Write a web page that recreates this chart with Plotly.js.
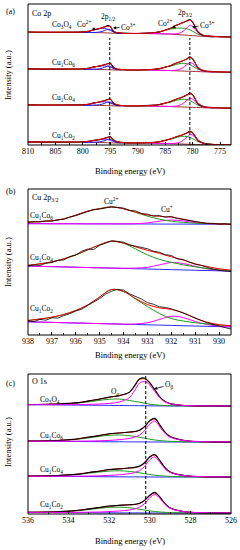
<!DOCTYPE html>
<html><head><meta charset="utf-8">
<script src="https://cdn.plot.ly/plotly-3.0.1.min.js"></script>
<style>html,body{margin:0;padding:0;background:#fff}#chart{width:240px;height:550px}</style>
</head><body><div id="chart"></div>
<script>
// ---------- Panel (a): Co 2p ----------
const energyA   = [810,805,800,799,798,797,796,795.5,795,794.5,794,793,790,787,786,785,784,783,782,781,780.5,780,779.5,779,778,777,775,773];
const energyA12 = [800,799,798,797,796,795.5,795,794.5,794,793];
const energyA32 = [788,787,786,785,784,783,782,781,780.5,780,779.5,779,778,777,776];
const ticksA = [810,805,800,795,790,785,780,775];

// Co3O4
const a1Bg  = [7.2,7.0,6.9,6.8,6.7,6.6,6.4,6.3,6.2,6.0,5.9,5.8,5.7,5.6,5.5,5.3,5.1,4.8,4.4,4.0,3.8,3.6,3.4,3.2,2.9,2.6,2.3,2.2];
const a1Fit = [7.2,7.1,7.3,8.0,9.4,10.8,12.2,13.0,12.6,9.0,7.0,6.1,5.9,6.6,7.5,9.0,11.2,13.8,16.0,18.2,19.2,17.5,12.5,7.5,4.0,3.2,2.5,2.3];
const a1Raw = [7.3,7.0,7.4,7.9,9.6,10.6,12.4,13.6,12.9,8.4,6.8,6.2,5.8,6.7,7.4,9.2,11.0,14.0,16.2,18.6,19.8,17.0,12.0,7.2,3.8,3.1,2.6,2.2];
const a1Co2p32 = [5.8,6.3,7.3,8.8,10.2,11.0,11.2,10.4,9.4,8.0,6.5,5.1,3.5,2.8,2.4];
const a1Co3p32 = [5.6,5.6,5.5,5.4,5.3,5.4,7.0,11.5,14.0,12.8,9.8,6.6,3.4,2.7,2.4];
const a1Co2p12 = [7.0,7.6,9.2,10.6,10.8,10.0,8.8,7.6,6.6,6.0];
const a1Co3p12 = [6.9,6.8,6.8,7.2,8.8,10.0,9.6,7.8,6.5,5.9];
// Cu1Co6
const a2Bg  = [5.5,5.4,5.3,5.2,5.1,5.0,4.9,4.8,4.7,4.6,4.5,4.5,4.4,4.3,4.2,4.1,3.9,3.7,3.5,3.3,3.2,3.1,3.0,2.9,2.7,2.6,2.5,2.4];
const a2Fit = [5.5,5.5,5.7,6.3,7.4,8.6,9.8,10.6,10.9,8.0,6.0,4.9,4.6,5.2,6.0,7.3,9.0,11.2,13.4,15.6,17.2,16.0,11.5,7.0,4.0,3.0,2.6,2.4];
const a2Raw = [5.6,5.4,5.8,6.2,7.6,8.4,10.0,10.8,11.4,7.6,5.8,5.0,4.5,5.3,5.9,7.5,8.8,11.4,13.2,15.9,17.8,15.6,11.0,6.6,3.8,3.1,2.5,2.3];
const a2Co2p32 = [4.5,5.0,5.8,7.0,8.5,10.0,11.2,10.8,9.8,8.3,6.6,5.1,3.5,2.8,2.6];
const a2Co3p32 = [4.3,4.3,4.2,4.1,4.0,4.3,6.0,10.0,11.8,11.0,8.6,5.8,3.3,2.7,2.6];
const a2Co2p12 = [5.5,6.0,7.2,8.3,8.6,8.2,7.4,6.3,5.3,4.7];
const a2Co3p12 = [5.3,5.2,5.3,5.7,7.2,8.4,8.2,6.6,5.2,4.6];
// Cu1Co4
const a3Bg  = [4.8,4.7,4.6,4.5,4.4,4.3,4.2,4.1,4.0,3.9,3.8,3.8,3.7,3.6,3.5,3.4,3.2,3.0,2.8,2.6,2.5,2.4,2.3,2.2,2.0,1.9,1.8,1.7];
const a3Fit = [4.8,4.8,5.0,5.6,6.7,7.9,9.1,9.9,10.3,7.5,5.4,4.2,3.9,4.5,5.3,6.6,8.3,10.4,12.5,14.6,16.2,15.2,10.8,6.4,3.3,2.3,1.9,1.7];
const a3Raw = [4.9,4.7,5.1,5.5,6.9,7.7,9.3,10.2,10.8,7.1,5.2,4.3,3.8,4.6,5.2,6.8,8.1,10.6,12.3,14.9,16.8,14.8,10.3,6.0,3.1,2.4,1.8,1.6];
const a3Co2p32 = [3.8,4.3,5.1,6.3,7.8,9.3,10.5,10.2,9.2,7.7,6.0,4.5,2.9,2.1,1.9];
const a3Co3p32 = [3.6,3.6,3.5,3.4,3.3,3.6,5.4,9.5,11.5,10.6,8.2,5.3,2.7,2.0,1.9];
const a3Co2p12 = [4.8,5.3,6.5,7.6,7.9,7.5,6.7,5.6,4.6,4.0];
const a3Co3p12 = [4.6,4.5,4.6,5.0,6.5,7.7,7.6,6.0,4.5,3.9];
// Cu1Co2
const a4Bg  = [3.0,2.9,2.8,2.7,2.6,2.5,2.4,2.3,2.2,2.1,2.0,2.0,1.9,1.8,1.7,1.6,1.4,1.2,1.0,0.8,0.7,0.6,0.5,0.4,0.3,0.2,0.1,0.0];
const a4Fit = [3.0,3.0,3.2,3.7,4.6,5.6,6.7,7.4,7.9,5.8,3.9,2.5,2.1,2.6,3.4,4.6,6.2,8.1,10.0,11.9,13.3,12.6,8.8,4.9,1.9,0.8,0.3,0.1];
const a4Raw = [3.1,2.9,3.3,3.6,4.8,5.4,6.9,7.7,8.3,5.4,3.7,2.6,2.0,2.7,3.3,4.8,6.0,8.3,9.8,12.2,13.9,12.2,8.3,4.5,1.7,0.9,0.2,0.0];
const a4Co2p32 = [2.0,2.5,3.2,4.4,5.9,7.4,8.6,8.5,7.7,6.4,4.9,3.4,1.8,0.9,0.6];
const a4Co3p32 = [1.8,1.8,1.7,1.6,1.5,1.8,3.6,8.0,10.4,9.8,7.3,4.3,1.6,0.6,0.4];
const a4Co2p12 = [3.0,3.4,4.4,5.4,5.8,5.5,4.8,3.8,2.8,2.2];
const a4Co3p12 = [2.8,2.7,2.8,3.1,4.4,5.5,5.6,4.3,2.9,2.1];

// ---------- Panel (b): Cu 2p3/2 ----------
const energyB = [938,937.5,937,936.5,936,935.5,935,934.5,934,933.5,933,932.5,932,931.5,931,930.5,930,929.5];
const energyBRaw = [938,937.75,937.5,937.25,937,936.75,936.5,936.25,936,935.75,935.5,935.25,935,934.75,934.5,934.25,934,933.75,933.5,933.25,933,932.75,932.5,932.25,932,931.75,931.5,931.25,931,930.75,930.5,930.25,930,929.75,929.5];
const ticksB = [938,937,936,935,934,933,932,931,930];
// Cu1Co6
const b1Bg  = [14.0,14.0,13.9,13.9,13.9,13.8,13.8,13.8,13.7,13.7,13.7,13.6,13.6,13.6,13.5,13.5,13.4,13.4];
const b1Cu2 = [15.6,16.2,17.0,18.8,22.5,26.5,29.0,30.7,28.8,25.3,21.5,18.5,16.5,15.3,14.5,14.0,13.7,13.5];
const b1Cu1 = [14.0,14.0,13.9,13.9,13.9,13.8,13.8,13.8,13.8,14.0,14.8,16.5,17.6,16.8,15.0,14.0,13.5,13.4];
const b1Fit = [15.6,16.2,17.0,18.8,22.5,26.5,29.0,30.7,28.9,25.6,22.6,21.4,20.5,18.5,16.0,14.5,13.8,13.5];
const b1Raw = [15.2,15.9,15.6,16.8,16.4,17.9,18.4,20.6,22.0,24.1,25.6,28.2,28.6,30.1,30.9,30.2,29.6,27.4,26.8,24.2,23.5,21.6,22.1,20.4,21.3,19.2,18.0,16.8,15.9,15.1,14.2,14.4,13.6,13.9,13.2];
// Cu1Co4
const b2Bg  = [20.3,20.0,19.7,19.4,19.1,18.8,18.5,18.2,17.9,17.6,17.3,17.0,16.7,16.4,16.1,15.8,15.5,15.3];
const b2Cu2 = [21.0,22.5,24.5,27.5,31.5,36.5,41.5,45.0,43.0,37.5,31.5,27.0,24.0,21.5,19.5,17.8,16.5,15.6];
const b2Cu1 = [20.3,20.0,19.7,19.4,19.1,18.8,18.5,18.3,18.1,18.2,19.0,21.5,23.8,22.8,20.0,17.5,15.9,15.3];
const b2Fit = [21.0,22.5,24.5,27.5,31.5,36.5,41.5,45.1,43.3,39.5,36.0,33.0,29.5,26.3,22.5,19.8,17.6,16.2];
const b2Raw = [20.6,21.3,21.0,23.1,23.8,25.9,26.4,29.8,31.2,35.1,37.3,36.8,41.0,43.6,45.6,45.0,44.1,41.5,40.2,38.4,37.6,35.2,34.1,31.6,30.9,27.5,26.8,24.2,22.1,20.9,18.7,17.2,16.0,15.6,14.8];
// Cu1Co2
const b3Bg  = [13.2,12.9,12.6,12.3,12.0,11.7,11.4,11.1,10.8,10.5,10.2,9.9,9.6,9.3,9.0,8.7,8.4,8.1];
const b3Cu2 = [14.5,16.0,17.8,20.5,24.5,30.0,38.0,45.5,43.5,36.0,28.5,21.5,16.5,14.0,12.3,11.0,10.0,9.2];
const b3Cu1 = [13.2,12.9,12.6,12.3,12.0,11.7,11.4,11.1,10.9,11.0,12.2,15.5,18.8,17.5,13.5,10.5,8.8,8.2];
const b3Fit = [14.5,16.0,17.8,20.5,24.5,30.0,38.0,45.5,43.6,36.5,30.5,27.1,25.7,22.2,16.8,12.8,10.4,9.3];
const b3Raw = [14.2,13.4,15.6,14.8,17.2,16.9,19.4,21.3,24.0,25.8,29.6,32.8,36.4,40.9,43.8,45.6,44.9,41.2,38.9,36.0,32.4,30.8,28.2,27.6,26.1,24.2,22.0,19.6,16.8,14.6,12.1,10.3,9.1,7.4,6.0];

// ---------- Panel (c): O 1s ----------
const energyC = [536,535,534,533.5,533,532.5,532,531.5,531,530.75,530.5,530.25,530,529.75,529.5,529.25,529,528.5,528,527,526];
const ticksC = [536,534,532,530,528,526];
// Co3O4
const c1Bg  = [4.3,4.2,4.0,3.9,3.8,3.7,3.6,3.5,3.4,3.35,3.3,3.25,3.2,3.15,3.1,3.05,3.0,3.0,3.0,3.0,3.0];
const c1Oa  = [4.4,4.6,5.2,6.0,7.2,8.6,9.7,10.0,8.5,7.6,6.8,5.8,4.8,4.2,3.8,3.5,3.3,3.1,3.0,3.0,3.0];
const c1Ob  = [4.3,4.3,4.3,4.4,4.6,5.0,5.6,7.0,11.5,18.5,26.0,27.5,24.0,17.5,11.0,7.0,5.2,3.8,3.3,3.1,3.0];
const c1Fit = [4.4,4.7,5.5,6.5,8.0,9.9,11.7,13.5,16.6,22.8,29.5,30.1,25.6,18.6,11.7,7.5,5.5,3.9,3.3,3.1,3.0];
const c1Raw = [4.5,4.6,5.6,6.4,8.1,9.8,11.9,13.4,16.9,23.4,30.2,30.8,26.3,19.2,12.0,7.6,5.4,3.8,3.2,3.1,2.9];
// Cu1Co6
const c2Bg  = [2.8,2.7,2.6,2.5,2.4,2.3,2.2,2.2,2.1,2.1,2.1,2.1,2.0,2.0,2.0,2.0,2.0,2.0,2.0,2.0,2.0];
const c2Oa  = [2.9,3.2,4.0,4.9,6.2,7.6,8.7,9.0,8.3,7.6,6.7,5.7,4.8,4.0,3.4,3.0,2.7,2.3,2.1,2.0,2.0];
const c2Ob  = [2.8,2.8,2.8,2.9,3.0,3.2,3.6,4.3,5.6,6.8,9.0,13.5,20.0,23.0,17.0,10.5,6.8,4.0,2.8,2.2,2.0];
const c2Fit = [2.9,3.3,4.2,5.3,6.8,8.5,10.1,11.1,11.8,12.3,13.6,17.1,22.8,25.0,18.4,11.5,7.5,4.3,2.9,2.2,2.0];
const c2Raw = [3.0,3.2,4.3,5.2,6.9,8.4,10.3,11.0,12.0,12.5,13.9,17.6,23.4,25.6,18.9,11.8,7.4,4.2,2.8,2.1,1.9];
// Cu1Co4
const c3Bg  = [2.8,2.7,2.6,2.5,2.4,2.3,2.2,2.2,2.1,2.1,2.1,2.1,2.0,2.0,2.0,2.0,2.0,2.0,2.0,2.0,2.0];
const c3Oa  = [2.9,3.1,3.8,4.6,5.8,7.0,7.9,8.2,7.6,7.0,6.2,5.3,4.5,3.8,3.3,2.9,2.6,2.3,2.1,2.0,2.0];
const c3Ob  = [2.8,2.8,2.8,2.9,3.0,3.2,3.6,4.2,5.4,6.5,8.5,12.8,19.2,22.0,16.5,10.2,6.6,3.9,2.8,2.2,2.0];
const c3Fit = [2.9,3.2,4.0,5.0,6.4,7.9,9.3,10.2,10.9,11.4,12.6,16.0,21.7,23.8,17.8,11.1,7.2,4.2,2.9,2.2,2.0];
const c3Raw = [3.0,3.1,4.1,4.9,6.5,7.8,9.5,10.1,11.1,11.6,12.9,16.5,22.3,24.4,18.3,11.4,7.1,4.1,2.8,2.1,1.9];
// Cu1Co2
const c4Bg  = [1.6,1.5,1.4,1.3,1.3,1.2,1.2,1.1,1.1,1.1,1.1,1.0,1.0,1.0,1.0,1.0,1.0,1.0,1.0,1.0,1.0];
const c4Oa  = [1.7,1.9,2.6,3.4,4.5,5.7,6.6,6.8,6.2,5.6,4.8,3.9,3.1,2.5,2.0,1.7,1.4,1.2,1.1,1.0,1.0];
const c4Ob  = [1.6,1.6,1.6,1.7,1.8,2.0,2.4,3.0,4.0,5.0,6.8,10.5,16.2,19.5,15.5,9.5,5.8,2.9,1.7,1.2,1.0];
const c4Fit = [1.7,2.0,2.8,3.8,5.0,6.5,7.8,8.7,9.1,9.5,10.5,13.4,18.3,21.0,16.5,10.2,6.2,3.1,1.8,1.2,1.0];
const c4Raw = [1.8,1.9,2.9,3.7,5.1,6.4,8.0,8.6,9.3,9.7,10.8,13.9,18.9,21.6,16.9,10.3,6.1,3.0,1.7,1.1,0.9];

const dashA = [795.1, 780.5];
const dashC = [530.2];

// ---------- build ----------
const W = 240, H = 550;
const PX = x => x / W, PY = y => 1 - y / H;
const FONT = 'Liberation Serif';
const COL = {raw:'#000000', fit:'#ff0000', green:'#1f9a1f', mag:'#ff00ff', purple:'#7a1fe0', blue:'#2020ff', bgA:'#9b2a2a', bgB:'#2a2aff'};

const traces = [];
function L(x, y, xa, ya, color, width, shape) {
  traces.push({x:x, y:y, xaxis:xa, yaxis:ya, type:'scatter', mode:'lines',
    line:{color:color, width:width, shape:shape||'spline', smoothing:1},
    hoverinfo:'skip', showlegend:false});
}
const setsA = [
  [a1Bg,a1Fit,a1Raw,a1Co2p32,a1Co3p32,a1Co2p12,a1Co3p12],
  [a2Bg,a2Fit,a2Raw,a2Co2p32,a2Co3p32,a2Co2p12,a2Co3p12],
  [a3Bg,a3Fit,a3Raw,a3Co2p32,a3Co3p32,a3Co2p12,a3Co3p12],
  [a4Bg,a4Fit,a4Raw,a4Co2p32,a4Co3p32,a4Co2p12,a4Co3p12]];
setsA.forEach((s, i) => {
  const ya = 'y' + (i + 1);
  L(energyA, s[0], 'x', ya, COL.bgA, 1);
  L(energyA12, s[5], 'x', ya, COL.purple, 1);
  L(energyA12, s[6], 'x', ya, COL.blue, 1);
  L(energyA32, s[3], 'x', ya, COL.green, 1);
  L(energyA32, s[4], 'x', ya, COL.mag, 1);
  L(energyA, s[2], 'x', ya, COL.raw, 1.1);
  L(energyA, s[1], 'x', ya, COL.fit, 1);
});
const setsB = [[b1Bg,b1Cu2,b1Cu1,b1Fit,b1Raw],[b2Bg,b2Cu2,b2Cu1,b2Fit,b2Raw],[b3Bg,b3Cu2,b3Cu1,b3Fit,b3Raw]];
setsB.forEach((s, i) => {
  const ya = 'y' + (i + 5);
  L(energyB, s[0], 'x2', ya, COL.bgB, 1);
  L(energyB, s[2], 'x2', ya, COL.mag, 1);
  L(energyB, s[1], 'x2', ya, COL.green, 1);
  L(energyB, s[3], 'x2', ya, COL.fit, 1);
  L(energyBRaw, s[4], 'x2', ya, COL.raw, 0.8, 'linear');
});
const setsC = [[c1Bg,c1Oa,c1Ob,c1Fit,c1Raw],[c2Bg,c2Oa,c2Ob,c2Fit,c2Raw],[c3Bg,c3Oa,c3Ob,c3Fit,c3Raw],[c4Bg,c4Oa,c4Ob,c4Fit,c4Raw]];
setsC.forEach((s, i) => {
  const ya = 'y' + (i + 8);
  L(energyC, s[0], 'x3', ya, COL.bgB, 1);
  L(energyC, s[1], 'x3', ya, COL.green, 1);
  L(energyC, s[3], 'x3', ya, COL.fit, 1);
  L(energyC, s[4], 'x3', ya, COL.raw, 1.1);
  L(energyC, s[2], 'x3', ya, COL.mag, 1);
});

// panel geometry (pixels)
const left = 28, right = 231;
const panels = [
  {top:4,   bottom:145, n:4, first:1, xa:'xaxis',  range:[810,773],  ticks:ticksA, minor:2.5},
  {top:189, bottom:335, n:3, first:5, xa:'xaxis2', range:[938,929.5], ticks:ticksB, minor:0.5},
  {top:374, bottom:514, n:4, first:8, xa:'xaxis3', range:[536,526],  ticks:ticksC, minor:1}
];
const layout = {width:W, height:H, margin:{l:0,r:0,t:0,b:0}, paper_bgcolor:'#fff', plot_bgcolor:'rgba(0,0,0,0)',
  showlegend:false, shapes:[], annotations:[], font:{family:FONT, color:'#000'}};
panels.forEach((p, k) => {
  const h = (p.bottom - p.top) / p.n;
  const xname = k === 0 ? 'x' : 'x' + (k + 1);
  for (let i = 0; i < p.n; i++) {
    const t = p.top + i * h, b = t + h;
    layout['yaxis' + (p.first + i)] = {domain:[PY(b), PY(t)], range:[0, h], visible:false, fixedrange:true, anchor:xname};
  }
  layout[p.xa] = {domain:[PX(left), PX(right)], range:p.range, anchor:'y' + (p.first + p.n - 1),
    tickmode:'array', tickvals:p.ticks, ticks:'inside', ticklen:3, tickwidth:1, tickcolor:'#000',
    minor:{ticks:'inside', ticklen:2, dtick:p.minor, tickcolor:'#000', tickwidth:1},
    showline:false, showgrid:false, zeroline:false, fixedrange:true,
    tickfont:{family:FONT, size:8, color:'#000'}};
  layout.shapes.push({type:'rect', xref:'paper', yref:'paper', x0:PX(left), x1:PX(right), y0:PY(p.bottom), y1:PY(p.top), line:{color:'#000', width:1}});
});
dashA.forEach(e => layout.shapes.push({type:'line', xref:'x', yref:'paper', x0:e, x1:e, y0:PY(145), y1:PY(38), line:{color:'#000', width:1, dash:'3px,2px'}}));
dashC.forEach(e => layout.shapes.push({type:'line', xref:'x3', yref:'paper', x0:e, x1:e, y0:PY(514), y1:PY(374), line:{color:'#000', width:1, dash:'3px,2px'}}));

function T(text, x, y, size, xanchor, angle) {
  layout.annotations.push({text:text, xref:'paper', yref:'paper', x:PX(x), y:PY(y), showarrow:false,
    xanchor:xanchor||'left', yanchor:'middle', textangle:angle||0, font:{family:FONT, size:size||8, color:'#000'}});
}
function A(text, hx, hy, tx, ty, size) {
  layout.annotations.push({text:text, xref:'paper', yref:'paper', x:PX(hx), y:PY(hy), ax:tx-hx, ay:ty-hy,
    axref:'pixel', ayref:'pixel', showarrow:true, arrowhead:2, arrowsize:0.8, arrowwidth:0.8, arrowcolor:'#000', standoff:0,
    font:{family:FONT, size:size||7.5, color:'#000'}});
}
// panel (a)
T('(a)', 4, 11, 8);
T('Co 2p', 30, 13, 8);
T('Co<sub>3</sub>O<sub>4</sub>', 50, 25, 7.5);
T('Cu<sub>1</sub>Co<sub>6</sub>', 50, 63, 7.5);
T('Cu<sub>1</sub>Co<sub>4</sub>', 50, 98, 7.5);
T('Cu<sub>1</sub>Co<sub>2</sub>', 50, 136, 7.5);
T('2p<sub>1/2</sub>', 108, 17, 7.5, 'center');
T('2p<sub>3/2</sub>', 185, 13, 7.5, 'center');
A('Co<sup>2+</sup>', 96, 30, 84, 24);
A('Co<sup>3+</sup>', 113, 28, 128, 27);
A('Co<sup>2+</sup>', 176, 28, 165, 23);
A('Co<sup>3+</sup>', 192, 27, 207, 25);
T('Intensity (a.u.)', 8, 75, 8.5, 'center', -90);
T('Binding energy (eV)', 129.5, 171, 8.5, 'center');
// panel (b)
T('(b)', 4, 191, 8);
T('Cu 2p<sub>3/2</sub>', 30, 198, 8);
T('Cu<sub>1</sub>Co<sub>6</sub>', 28, 216, 7.5);
T('Cu<sub>1</sub>Co<sub>4</sub>', 28, 258, 7.5);
T('Cu<sub>1</sub>Co<sub>2</sub>', 28, 309, 7.5);
T('Cu<sup>2+</sup>', 111, 201, 7.5, 'center');
T('Cu<sup>+</sup>', 167, 209, 7.5, 'center');
T('Intensity (a.u.)', 8, 262, 8.5, 'center', -90);
T('Binding energy (eV)', 129.5, 355, 8.5, 'center');
// panel (c)
T('(c)', 4, 383, 8);
T('O 1s', 30, 381, 8);
T('Co<sub>3</sub>O<sub>4</sub>', 38, 400, 7.5);
T('Cu<sub>1</sub>Co<sub>6</sub>', 38, 436, 7.5);
T('Cu<sub>1</sub>Co<sub>4</sub>', 38, 470, 7.5);
T('Cu<sub>1</sub>Co<sub>2</sub>', 38, 505, 7.5);
T('O<sub>α</sub>', 115, 392, 7.5, 'center');
A('O<sub>β</sub>', 154, 389, 169, 385);
T('Intensity (a.u.)', 8, 442, 8.5, 'center', -90);
T('Binding energy (eV)', 129.5, 541, 8.5, 'center');

Plotly.newPlot('chart', traces, layout, {staticPlot:true, displayModeBar:false});
</script></body></html>
